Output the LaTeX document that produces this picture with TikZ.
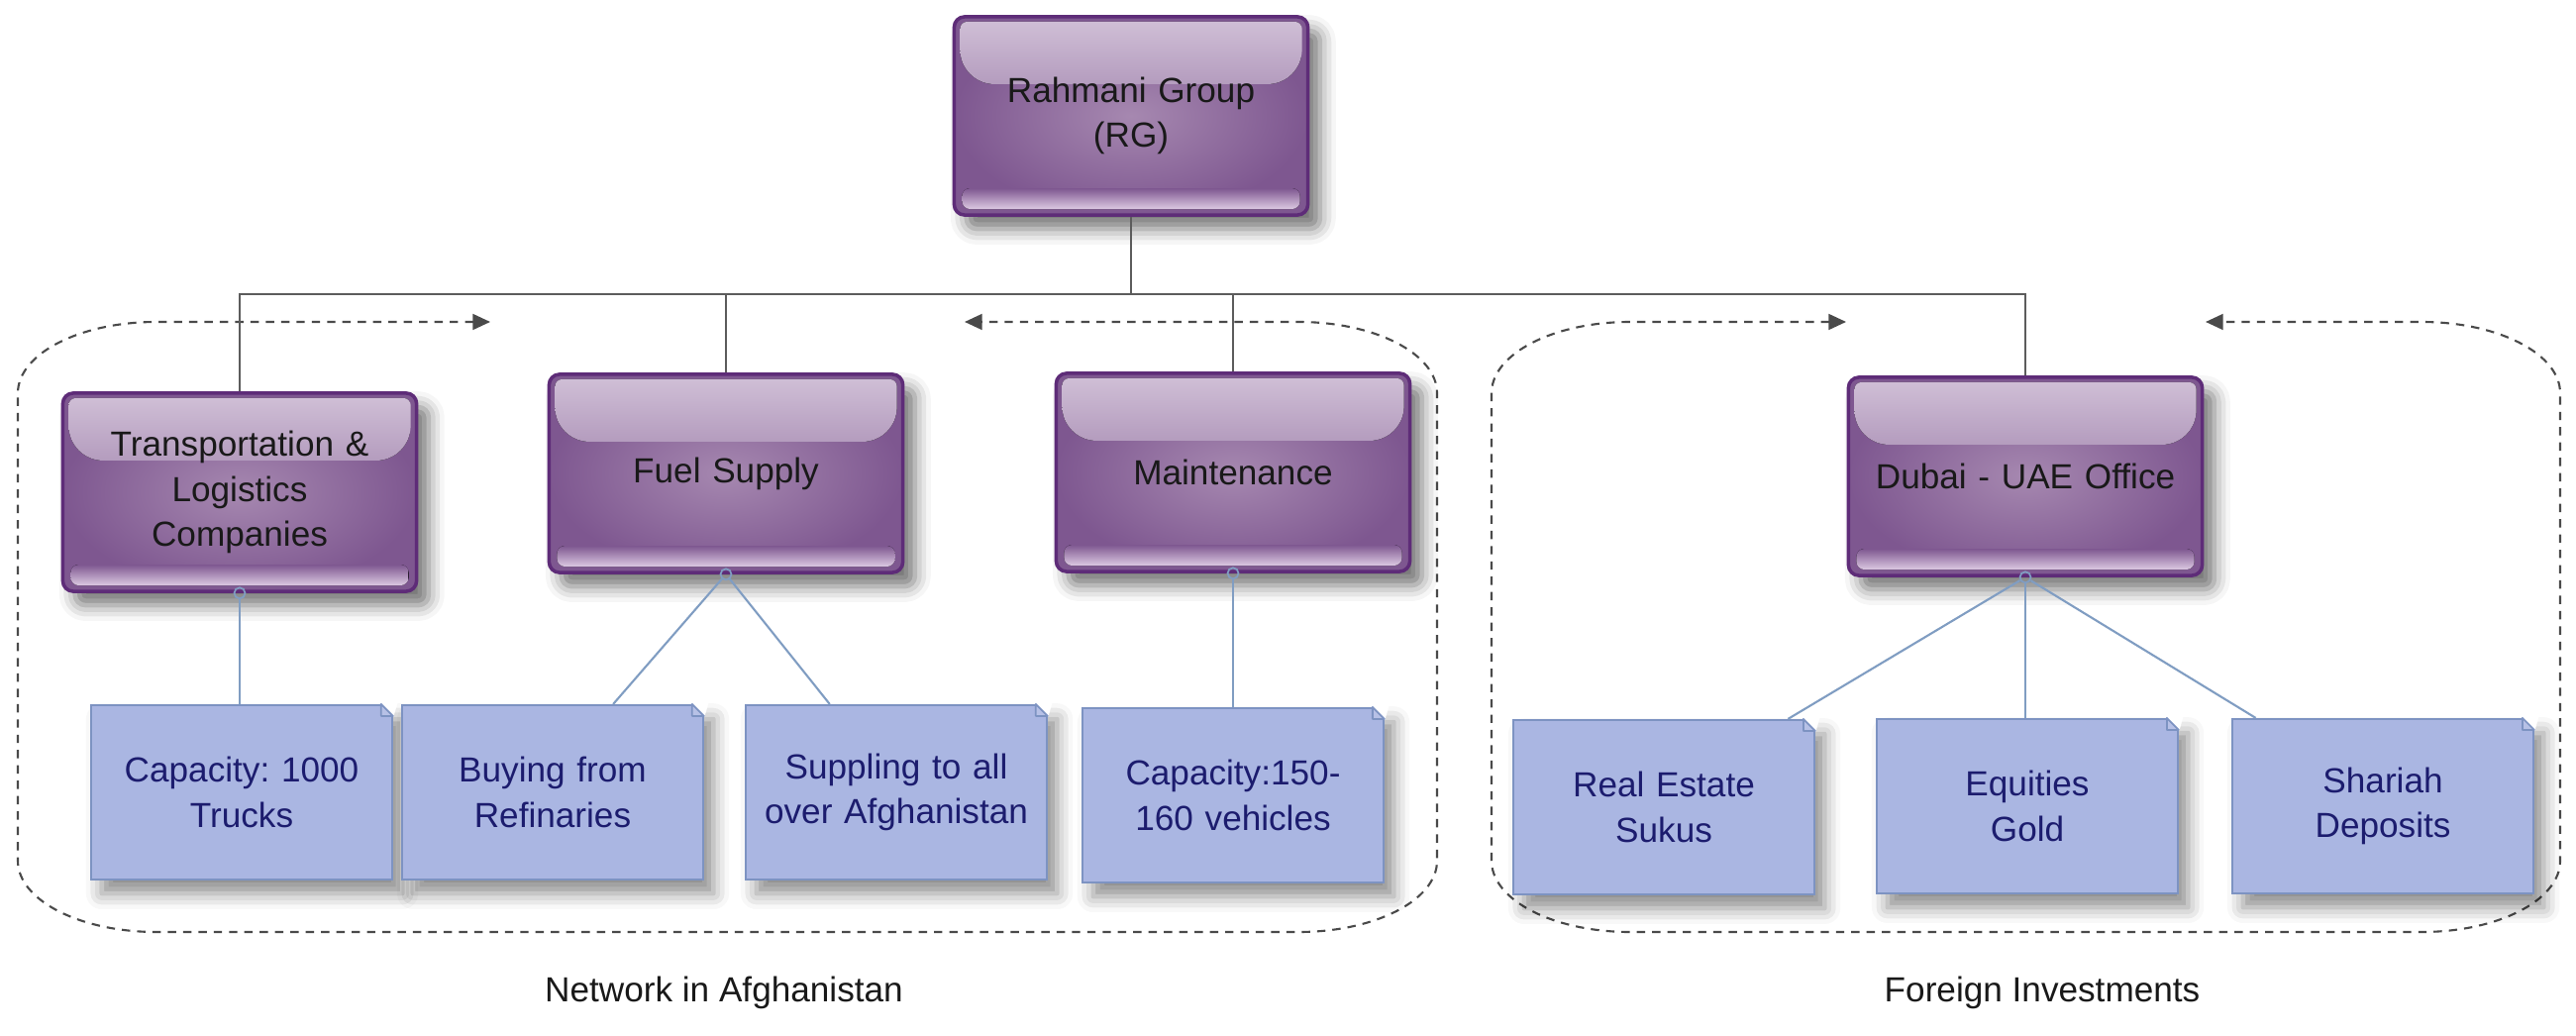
\documentclass[tikz,border=0pt]{standalone}
\usepackage{fontspec}
\setmainfont{Liberation Sans}
\usepackage{tikz}
\usetikzlibrary{positioning,arrows.meta,calc,shadows.blur}
\frenchspacing

\definecolor{orgline}{HTML}{5C5C5C}
\definecolor{grpline}{HTML}{4A4A4A}
\definecolor{boxedge}{HTML}{5E2C78}
\definecolor{boxin}{HTML}{A688B0}
\definecolor{boxout}{HTML}{7E5790}
\definecolor{glosstop}{HTML}{E2D6E6}
\definecolor{glossbot}{HTML}{B49CBE}
\definecolor{stripbot}{HTML}{DCC9E2}
\definecolor{notefill}{HTML}{AAB6E2}
\definecolor{noteline}{HTML}{7D93C2}
\definecolor{notetext}{HTML}{1C1C6E}
\definecolor{linkcol}{HTML}{809DC2}

\begin{document}
\begin{tikzpicture}[
  x=0.01cm, y=-0.01cm,
  unit/.style={rectangle, rounded corners=3pt, draw=boxedge, line width=1pt,
               inner color=boxin, outer color=boxout,
               minimum width=3.57cm, minimum height=2cm, text width=3.3cm,
               align=center, font=\fontsize{10}{13}\selectfont, text=black!90,
               blur shadow={shadow xshift=3.5pt, shadow yshift=-4pt,
                            shadow blur radius=4.5pt, shadow opacity=55},
               path picture={
                 \begin{scope}
                   \clip[rounded corners=2pt]
                     ([shift={(0.06cm,-0.05cm)}]path picture bounding box.north west) rectangle
                     ([shift={(-0.06cm,-0.68cm)}]path picture bounding box.north east);
                   \fill[top color=glosstop, bottom color=glossbot, rounded corners=0.35cm]
                     ([shift={(0.06cm,0.4cm)}]path picture bounding box.north west) rectangle
                     ([shift={(-0.06cm,-0.68cm)}]path picture bounding box.north east);
                 \end{scope}
                 \fill[top color=boxout, bottom color=stripbot, rounded corners=0.08cm]
                   ([shift={(0.08cm,0.27cm)}]path picture bounding box.south west) rectangle
                   ([shift={(-0.08cm,0.06cm)}]path picture bounding box.south east);
               }},
  memo/.style={rectangle, fill=notefill, draw=noteline, line width=0.6pt,
               minimum width=2.9cm, minimum height=1.76cm, text width=2.8cm,
               align=center, text=notetext, font=\fontsize{10}{13}\selectfont,
               blur shadow={shadow xshift=3pt, shadow yshift=-4pt,
                            shadow blur radius=4.5pt, shadow opacity=45}},
  bus/.style={draw=orgline, line width=0.55pt},
  link/.style={draw=linkcol, line width=0.6pt},
  port/.style={circle, draw=linkcol, line width=0.5pt, inner sep=0pt, minimum size=0.11cm},
  region/.style={draw=grpline, line width=0.6pt, dash pattern=on 2.4pt off 2pt,
                 {Triangle[length=5pt,width=4.5pt]}-{Triangle[length=5pt,width=4.5pt]}},
  caption/.style={font=\fontsize{10}{12}\selectfont, text=black!90}
]
\useasboundingbox (0,0) rectangle (2601,1046);

% Dashed groups
\draw[region] (495,325) -- (158,325) .. controls (81,325) and (18,357) .. (18,397)
  -- (18,869) .. controls (18,909) and (81,941) .. (158,941)
  -- (1311,941) .. controls (1388,941) and (1451,909) .. (1451,869)
  -- (1451,397) .. controls (1451,357) and (1388,325) .. (1311,325) -- (974,325);
\draw[region] (1864,325) -- (1646,325) .. controls (1569,325) and (1506,357) .. (1506,397)
  -- (1506,869) .. controls (1506,909) and (1569,941) .. (1646,941)
  -- (2445,941) .. controls (2522,941) and (2585,909) .. (2585,869)
  -- (2585,397) .. controls (2585,357) and (2522,325) .. (2445,325) -- (2227,325);

% Units
\node[unit] (rg) at (1142,117) {Rahmani Group\\(RG)};
\node[unit] (trans) at (242,497) {Transportation \&\\Logistics\\Companies};
\node[unit] (fuel) at (733,478) {Fuel Supply};
\node[unit] (maint) at (1245,477) {Maintenance};
\node[unit] (dubai) at (2045,481) {Dubai - UAE Office};

% Notes
\node[memo] (cap1) at (244,800) {Capacity: 1000\\Trucks};
\node[memo] (buy) at (558,800) {Buying from\\Refinaries};
\node[memo] (sup) at (905,800) {Suppling to all\\over Afghanistan};
\node[memo] (cap2) at (1245,803) {Capacity:150-\\160 vehicles};
\node[memo] (estate) at (1680,815) {Real Estate\\Sukus};
\node[memo] (equity) at (2047,814) {Equities\\Gold};
\node[memo] (shariah) at (2406,814) {Shariah\\Deposits};

% Folded corners
\foreach \n in {cap1,buy,sup,cap2,estate,equity,shariah}{
  \filldraw[white] ([xshift=-0.12cm]\n.north east) -- ([shift={(0.05cm,0.05cm)}]\n.north east)
    -- ([yshift=-0.12cm]\n.north east) -- cycle;
  \filldraw[fill=notefill!85!white, draw=noteline, line width=0.5pt, line join=round]
    ([xshift=-0.12cm]\n.north east) -- ([shift={(-0.12cm,-0.12cm)}]\n.north east)
    -- ([yshift=-0.12cm]\n.north east) -- cycle;
}

% Org lines
\coordinate (hub) at (1142,297);
\draw[bus] (rg.south) -- (hub);
\draw[bus] (trans.north) |- (hub) -| (dubai.north);
\draw[bus] (fuel.north) -- (fuel.north |- hub);
\draw[bus] (maint.north) -- (maint.north |- hub);

% Ports and note links
\node[port] (tp) at (trans.south) {};
\node[port] (fp) at (fuel.south) {};
\node[port] (mp) at (maint.south) {};
\node[port] (dp) at (dubai.south) {};
\draw[link] (tp) -- (tp |- cap1.north);
\draw[link] (fp) -- ($(buy.north west)!0.7!(buy.north east)$);
\draw[link] (fp) -- ($(sup.north west)!0.28!(sup.north east)$);
\draw[link] (mp) -- (mp |- cap2.north);
\draw[link] (dp) -- ($(estate.north west)!0.91!(estate.north east)$);
\draw[link] (dp) -- (dp |- equity.north);
\draw[link] (dp) -- ($(shariah.north west)!0.08!(shariah.north east)$);

% Captions
\node[caption] (afgcap) at (731,1002) {Network in Afghanistan};
\node[caption] (forcap) at (2062,1002) {Foreign Investments};

\end{tikzpicture}
\end{document}
